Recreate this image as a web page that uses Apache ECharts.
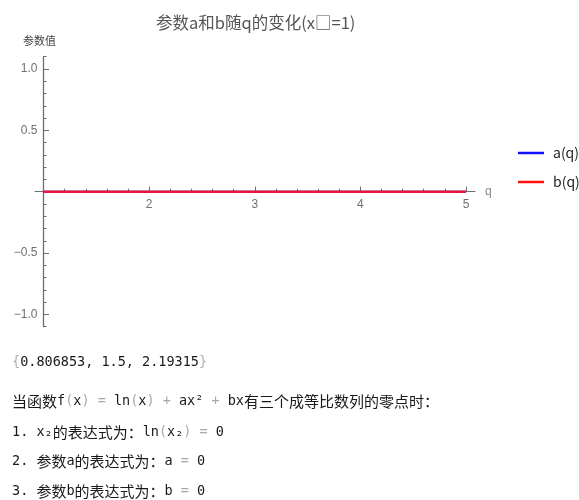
<!DOCTYPE html>
<html>
<head>
<meta charset="utf-8">
<script src="https://cdn.jsdelivr.net/npm/echarts@6/dist/echarts.min.js"></script>
<style>
  html, body { margin: 0; padding: 0; background: #fff; }
  #chart { width: 579px; height: 500px; }
</style>
</head>
<body>
<div id="chart"></div>
<script>
// Parameter curves a(q) and b(q) sampled over q
const qValues = [1, 2, 3, 4, 5];
const aValues = [0, 0, 0, 0, 0];
const bValues = [0, 0, 0, 0, 0];

// Axis ticks
const xMajorTicks = [2, 3, 4, 5];
const yMajorTicks = [-1, -0.5, 0.5, 1];

// Three zeros forming a geometric sequence
const rootValues = [0.806853, 1.5, 2.19315];

const xMinorTicks = [];
for (let k = 6; k < 25; k++) {
  const v = +(k / 5).toFixed(1);
  if (!xMajorTicks.includes(v)) xMinorTicks.push(v);
}
const yMinorTicks = [];
for (let k = -11; k <= 11; k++) {
  const v = +(k / 10).toFixed(1);
  if (v !== 0 && !yMajorTicks.includes(v)) yMinorTicks.push(v);
}

const axisGray = '#6e6e6e';
const labelGray = '#707070';
const monoFont = '"DejaVu Sans Mono", "Liberation Mono", monospace';
const cjkFont = '"Noto Sans CJK SC", "Noto Sans", sans-serif';
const latinFont = 'Arial, "Liberation Sans", sans-serif';

const yMin = -1.1, yMax = 1.1;
const plotLeft = 43.5, plotTop = 56.7, plotW = 422.5, plotH = 270;
const pxPerQ = plotW / 4;
// height from the top of the plot down to the y = 0 line
const upperH = plotH * yMax / (yMax - yMin);

const chart = echarts.init(document.getElementById('chart'), null, { renderer: 'canvas' });

const rich = {
  m: { fontFamily: monoFont, fontSize: 13.5, fill: '#1a1a1a' },
  p: { fontFamily: monoFont, fontSize: 13.5, fill: '#a8a8a8' },
  c: { fontFamily: cjkFont, fontSize: 15, fill: '#1a1a1a' }
};

function textLine(y, text) {
  return {
    type: 'text', left: 12, top: y - 9,
    style: {
      text: text, rich: rich,
      fontFamily: monoFont, fontSize: 13.5, fill: '#b0b0b0'
    }
  };
}

chart.setOption({
  animation: false,
  backgroundColor: '#fff',
  title: {
    text: '参数a和b随q的变化(x□=1)',
    left: 151, top: 9,
    textStyle: { fontFamily: cjkFont, fontSize: 16.5, fontWeight: 'normal', color: '#555' }
  },
  legend: {
    orient: 'vertical',
    left: 513, top: 141,
    icon: 'rect',
    itemWidth: 26, itemHeight: 2.5,
    itemGap: 15,
    textStyle: { fontFamily: cjkFont, fontSize: 14, color: '#222', padding: [0, 0, 0, 4] },
    data: ['a(q)', 'b(q)']
  },
  grid: [
    // plotting area with the vertical axis
    { left: plotLeft, top: plotTop, width: plotW, height: plotH },
    // upper half, whose bottom edge carries the q ticks at y = 0
    { left: plotLeft, top: plotTop, width: plotW, height: upperH },
    // padded horizontal axis line
    { left: 35, top: plotTop, width: 440, height: upperH }
  ],
  xAxis: [
    {
      type: 'value', gridIndex: 0, min: 1, max: 5, show: false
    },
    {
      type: 'value', gridIndex: 1, min: 1, max: 5, position: 'bottom', offset: 0,
      axisLine: { show: false, onZero: false },
      axisTick: { inside: true, length: 5, customValues: xMajorTicks, lineStyle: { color: axisGray } },
      axisLabel: { customValues: xMajorTicks, margin: 7, color: labelGray, fontSize: 12, fontFamily: latinFont },
      splitLine: { show: false }
    },
    {
      type: 'value', gridIndex: 1, min: 1, max: 5, position: 'bottom', offset: 0,
      axisLine: { show: false, onZero: false },
      axisTick: { inside: true, length: 3, customValues: xMinorTicks, lineStyle: { color: axisGray } },
      axisLabel: { show: false },
      splitLine: { show: false }
    },
    {
      type: 'value', gridIndex: 2, position: 'bottom',
      min: 1 - 8.5 / pxPerQ, max: 5 + 9 / pxPerQ,
      name: 'q', nameLocation: 'end', nameGap: 10,
      nameTextStyle: { color: '#8a8a8a', fontSize: 12, fontFamily: latinFont },
      axisLine: { show: true, onZero: false, lineStyle: { color: axisGray, width: 1 } },
      axisTick: { show: false },
      axisLabel: { show: false },
      splitLine: { show: false }
    }
  ],
  yAxis: [
    {
      type: 'value', gridIndex: 0, min: yMin, max: yMax, position: 'left',
      name: '参数值', nameLocation: 'end', nameGap: 10,
      nameTextStyle: { color: '#444', fontSize: 11, fontFamily: cjkFont, padding: [0, 8, 0, 0] },
      axisLine: { show: true, onZero: false, lineStyle: { color: axisGray, width: 1.3 } },
      axisTick: { inside: true, length: 5.5, customValues: yMajorTicks, lineStyle: { color: axisGray } },
      axisLabel: {
        customValues: yMajorTicks, margin: 6, color: labelGray, fontSize: 12,
        fontFamily: latinFont,
        formatter: v => (v < 0 ? '\u2212' : '') + Math.abs(v).toFixed(1)
      },
      splitLine: { show: false }
    },
    {
      type: 'value', gridIndex: 0, min: yMin, max: yMax, position: 'left', offset: 0,
      axisLine: { show: false, onZero: false },
      axisTick: { inside: true, length: 3, customValues: yMinorTicks, lineStyle: { color: axisGray } },
      axisLabel: { show: false },
      splitLine: { show: false }
    },
    { type: 'value', gridIndex: 1, min: 0, max: yMax, show: false },
    { type: 'value', gridIndex: 2, min: 0, max: yMax, show: false }
  ],
  series: [
    {
      name: 'a(q)', type: 'line', xAxisIndex: 0, yAxisIndex: 0,
      showSymbol: false, color: '#1010ff',
      lineStyle: { width: 2, color: '#1010ff' },
      data: qValues.map((q, i) => [q, aValues[i]])
    },
    {
      name: 'b(q)', type: 'line', xAxisIndex: 0, yAxisIndex: 0,
      showSymbol: false, color: '#ff1010',
      lineStyle: { width: 2.5, color: '#e8163c' },
      data: qValues.map((q, i) => [q, bValues[i]])
    }
  ],
  graphic: [
    textLine(364, '{{m|' + rootValues.join(', ') + '}}'),
    textLine(403, '{c|当函数}{m|f}{p|(}{m|x}{p|) = }{m|ln}{p|(}{m|x}{p|) + }{m|ax²}{p| + }{m|bx}{c|有三个成等比数列的零点时：}'),
    textLine(434, '{m|1. x₂}{c|的表达式为：}{m|ln}{p|(}{m|x₂}{p|) = }{m|0}'),
    textLine(463, '{m|2. }{c|参数}{m|a}{c|的表达式为：}{m|a}{p| = }{m|0}'),
    textLine(493, '{m|3. }{c|参数}{m|b}{c|的表达式为：}{m|b}{p| = }{m|0}')
  ]
});
</script>
</body>
</html>
